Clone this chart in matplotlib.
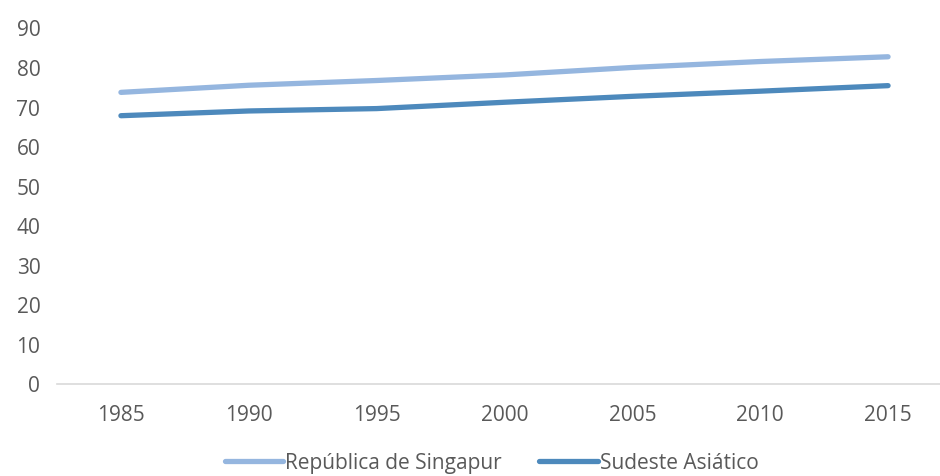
import matplotlib
matplotlib.use("Agg")
import matplotlib.pyplot as plt
from matplotlib import font_manager

years = ["1985", "1990", "1995", "2000", "2005", "2010", "2015"]
singapur = [73.6, 75.4, 76.6, 78.0, 79.9, 81.4, 82.6]
sudeste = [67.7, 68.9, 69.5, 71.1, 72.6, 73.9, 75.3]
series_names = ["República de Singapur", "Sudeste Asiático"]
yticks = [0, 10, 20, 30, 40, 50, 60, 70, 80, 90]

names = {f.name for f in font_manager.fontManager.ttflist}
fam = "Liberation Sans Narrow" if "Liberation Sans Narrow" in names else "Open Sans"
plt.rcParams['font.family'] = [fam, 'DejaVu Sans']

fig = plt.figure(figsize=(9.4, 4.77), dpi=100)
W, H = 940, 477
left, right = 57, 952
y0, y90 = 384.5, 28.5
ax = fig.add_axes([left / W, (H - y0) / H, (right - left) / W, (y0 - y90) / H])

x = list(range(len(years)))
l1, = ax.plot(x, singapur, color='#95b6df', lw=3.8, solid_capstyle='round', solid_joinstyle='round')
l2, = ax.plot(x, sudeste, color='#4d89bc', lw=3.8, solid_capstyle='round', solid_joinstyle='round')

ax.set_xlim(-0.5, len(years) - 0.5)
ax.set_ylim(0, 90)
ax.set_xticks(x)
ax.set_xticklabels(years)
ax.set_yticks(yticks)
for s in ['top', 'right', 'left']:
    ax.spines[s].set_visible(False)
ax.spines['bottom'].set_color('#d9d9d9')
ax.spines['bottom'].set_linewidth(1.2)
ax.tick_params(axis='both', length=0, labelsize=15, labelcolor='#595959')
ax.tick_params(axis='x', pad=15)
ax.tick_params(axis='y', pad=12)
for lab in ax.get_yticklabels():
    lab.set_horizontalalignment('right')

leg = fig.legend([l1, l2], series_names, loc='lower center', bbox_to_anchor=(0.523, -0.033),
                 ncol=2, frameon=False, fontsize=15, handlelength=2.8, handletextpad=0.1,
                 columnspacing=1.8)
for t in leg.get_texts():
    t.set_color('#595959')

fig.savefig("out.png", dpi=100)
